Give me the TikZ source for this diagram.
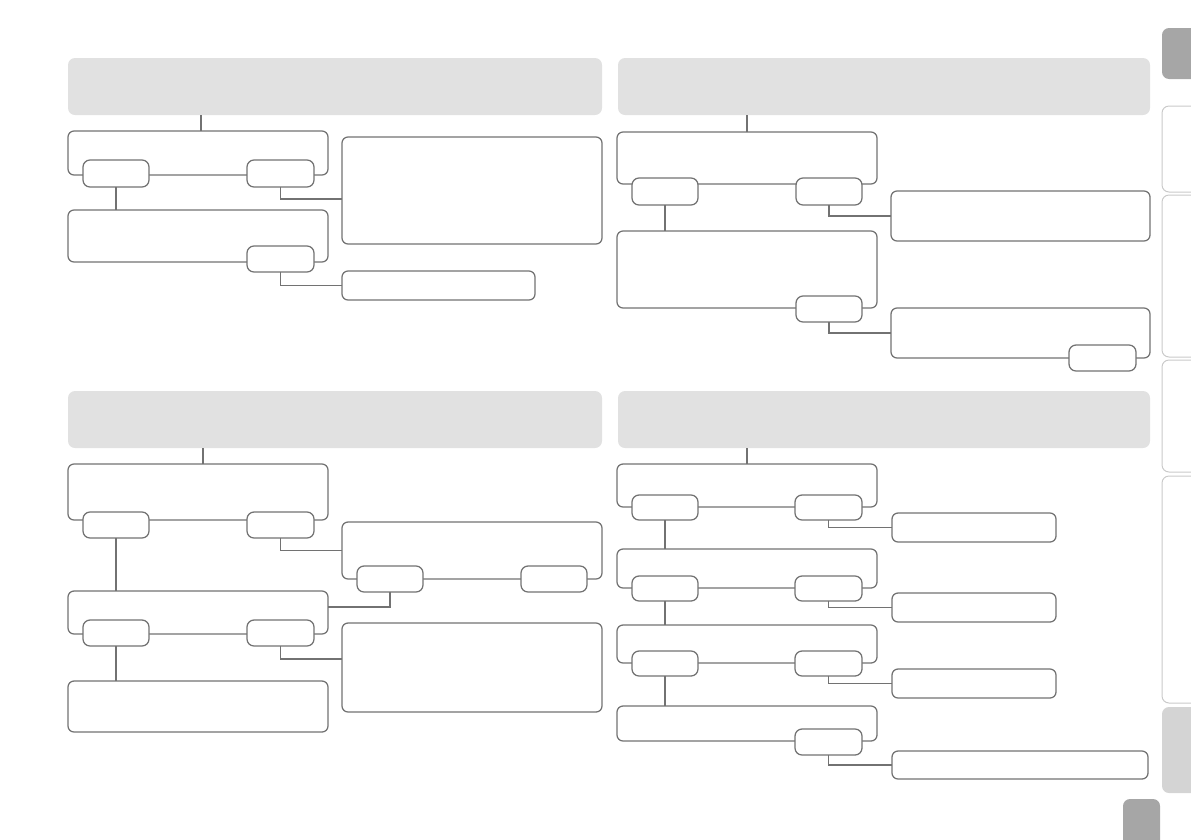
\documentclass[tikz,border=0pt]{standalone}
\usetikzlibrary{calc}
\definecolor{lc}{HTML}{727272}
\definecolor{hdr}{HTML}{E1E1E1}
\definecolor{tabdark}{HTML}{A6A6A6}
\definecolor{tablight}{HTML}{D4D4D4}
\definecolor{tabline}{HTML}{CACACA}
\tikzset{
  box/.style={draw=lc, line width=1.25pt, rounded corners=6pt, fill=white, inner sep=0pt, outer sep=0pt, anchor=north west},
  pill/.style={box, rounded corners=7pt},
  header/.style={fill=hdr, rounded corners=7pt, inner sep=0pt, outer sep=0pt, anchor=north west},
  conn/.style={draw=lc, line width=1.25pt},
  tabout/.style={draw=tabline, line width=1pt, rounded corners=7pt},
}
\newcommand{\bx}[6]{\node[#1, minimum width=#4-#2, minimum height=#5-#3] (#6) at (#2,#3) {};}
\begin{document}
\begin{tikzpicture}[x=1pt,y=-1pt]
\useasboundingbox (0,0) rectangle (1191,839);
% ---------- side tabs ----------
\node[header, fill=tabdark, minimum width=45, minimum height=51] (tab1) at (1162,28) {};
\draw[tabout] (1200,106) -- (1162,106) -- (1162,192) -- (1200,192);
\draw[tabout] (1200,195) -- (1162,195) -- (1162,357) -- (1200,357);
\draw[tabout] (1200,360) -- (1162,360) -- (1162,472) -- (1200,472);
\draw[tabout] (1200,476) -- (1162,476) -- (1162,703) -- (1200,703);
\node[header, fill=tablight, minimum width=45, minimum height=86] (tab6) at (1162,707) {};
\node[header, fill=tabdark, minimum width=37, minimum height=50] (pagebox) at (1123,799) {};
% ---------- headers ----------
\node[header, minimum width=534, minimum height=57] (H1) at (68,58) {};
\node[header, minimum width=532, minimum height=57] (H2) at (618,58) {};
\node[header, minimum width=534, minimum height=57] (H3) at (68,391) {};
\node[header, minimum width=532, minimum height=57] (H4) at (618,391) {};
% ---------- panel 1 ----------
\bx{box}{68}{131}{328}{175}{A}
\bx{box}{68}{210}{328}{262}{B}
\bx{box}{342}{137}{602}{244}{C}
\bx{box}{342}{271}{535}{300}{D}
\bx{pill}{83}{160}{149}{187}{A1}
\bx{pill}{247}{160}{314}{187}{A2}
\bx{pill}{247}{246}{314}{272}{B1}
\coordinate (y1) at (0,199);
\draw[conn] ([xshift=3pt]A.north) -- ([xshift=3pt]A.north |- H1.south);
\draw[conn] (A1.south) -- (A1.south |- B.north);
\draw[conn] (A2.south) |- (C.west |- y1);
\draw[conn] (B1.south) |- (D.west);
% ---------- panel 2 ----------
\bx{box}{617}{132}{877}{184}{E}
\bx{box}{617}{231}{877}{308}{F}
\bx{box}{891}{191}{1150}{241}{G}
\bx{box}{891}{308}{1150}{358}{Hb}
\bx{pill}{632}{178}{698}{205}{E1}
\bx{pill}{796}{178}{862}{205}{E2}
\bx{pill}{796}{296}{862}{322}{F1}
\bx{pill}{1069}{345}{1136}{371}{H1p}
\draw[conn] (E.north) -- (E.north |- H2.south);
\draw[conn] (E1.south) -- (E1.south |- F.north);
\draw[conn] (E2.south) |- (G.west);
\draw[conn] (F1.south) |- (Hb.west);
% ---------- panel 3 ----------
\bx{box}{68}{464}{328}{520}{I}
\bx{box}{68}{591}{328}{634}{J}
\bx{box}{68}{681}{328}{732}{K}
\bx{box}{342}{522}{602}{579}{L}
\bx{box}{342}{623}{602}{712}{M}
\bx{pill}{83}{512}{149}{538}{I1}
\bx{pill}{247}{512}{314}{538}{I2}
\bx{pill}{83}{620}{149}{646}{J1}
\bx{pill}{247}{620}{314}{646}{J2}
\bx{pill}{357}{566}{423}{592}{L1}
\bx{pill}{521}{566}{587}{592}{L2}
\coordinate (y2) at (0,607);
\coordinate (y3) at (0,659);
\draw[conn] ([xshift=5pt]I.north) -- ([xshift=5pt]I.north |- H3.south);
\draw[conn] (I1.south) -- (I1.south |- J.north);
\draw[conn] (J1.south) -- (J1.south |- K.north);
\draw[conn] (I2.south) |- (L.west);
\draw[conn] (L1.south) |- (J.east |- y2);
\draw[conn] (J2.south) |- (M.west |- y3);
% ---------- panel 4 ----------
\bx{box}{617}{464}{877}{507}{P1}
\bx{box}{617}{549}{877}{588}{P2}
\bx{box}{617}{625}{877}{663}{P3}
\bx{box}{617}{706}{877}{741}{P4}
\bx{box}{892}{513}{1056}{542}{N1}
\bx{box}{892}{593}{1056}{622}{N2}
\bx{box}{892}{669}{1056}{698}{N3}
\bx{box}{892}{751}{1148}{779}{N4}
\bx{pill}{632}{495}{698}{520}{P1a}
\bx{pill}{795}{495}{862}{520}{P1b}
\bx{pill}{632}{576}{698}{601}{P2a}
\bx{pill}{795}{576}{862}{601}{P2b}
\bx{pill}{632}{651}{698}{676}{P3a}
\bx{pill}{795}{651}{862}{676}{P3b}
\bx{pill}{795}{729}{862}{755}{P4b}
\draw[conn] (P1.north) -- (P1.north |- H4.south);
\draw[conn] (P1a.south) -- (P1a.south |- P2.north);
\draw[conn] (P2a.south) -- (P2a.south |- P3.north);
\draw[conn] (P3a.south) -- (P3a.south |- P4.north);
\draw[conn] (P1b.south) |- (N1.west);
\draw[conn] (P2b.south) |- (N2.west);
\draw[conn] (P3b.south) |- (N3.west);
\draw[conn] (P4b.south) |- (N4.west);
\end{tikzpicture}
\end{document}
